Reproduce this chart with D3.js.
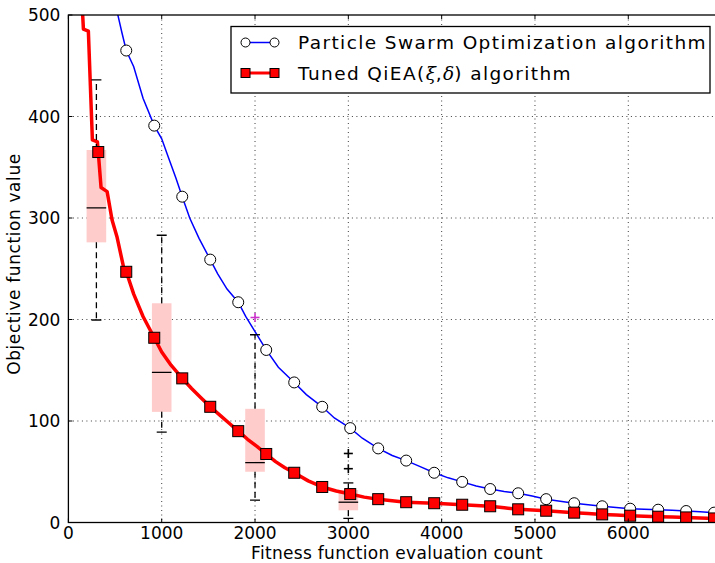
<!DOCTYPE html>
<html><head><meta charset="utf-8">
<script src="https://cdn.jsdelivr.net/npm/d3@7"></script>
<style>body{margin:0;background:#fff}svg{display:block;font-family:"DejaVu Sans",sans-serif}</style>
</head><body><svg id="c" width="715" height="563"></svg>
<script>
// ---- data ----
const psoMarkerX = [620,920,1220,1520,1820,2120,2420,2720,3020,3320,3620,3920,4220,4520,4820,5120,5420,5720,6020,6320,6620,6920];
const psoMarkerY = [465,391,321,259,217,170,138,114,93,73,61,49,40,33,28.8,23,19,16,13.6,12.6,11.3,9.7];
const psoLineX = [525,575,620,700,800,920,1000,1070,1150,1220,1300,1400,1520,1600,1700,1820,1900,2000,2120,2250,2420,2550,2720,2850,3020,3150,3320,3470,3620,3770,3920,4070,4220,4370,4520,4670,4820,4970,5120,5270,5420,5570,5720,5870,6020,6170,6320,6470,6620,6770,6920,7000];
const psoLineY = [502,482,465,449,418,391,378,360,340,321,300,280,259,245,230,217,203,188,170,153,138,126,114,103,93,83,73,66,61,55,49,44,40,36,33,30.5,28.8,26,23,21,19,17.5,16,14.8,13.6,13,12.6,12,11.3,10.5,9.7,9.3];
const qieaMarkerX = [320,620,920,1220,1520,1820,2120,2420,2720,3020,3320,3620,3920,4220,4520,4820,5120,5420,5720,6020,6320,6620,6920];
const qieaMarkerY = [365,247,182,142,114,90,67.5,49,35,28,23,20,19,17.5,16,13,11.6,9.7,8,6.7,5.7,5,4];
const qieaLineX = [150,161,214,257,311,320,350,415,468,522,590,620,700,800,920,1000,1100,1220,1320,1420,1520,1620,1720,1820,1920,2020,2120,2220,2320,2420,2570,2720,2870,3020,3170,3320,3470,3620,3770,3920,4070,4220,4370,4520,4670,4820,4970,5120,5270,5420,5570,5720,5870,6020,6170,6320,6470,6620,6770,6920,7000];
const qieaLineY = [505,486,484,377,375,365,330,326,298,281,252,247,225,203,182,168,155,142,132,123,114,106,98,90,82,75,67.5,60,54,49,41,35,31,28,25,23,21.5,20,19.5,19,18.2,17.5,16.8,16,14.5,13,12.3,11.6,10.6,9.7,8.8,8,7.3,6.7,6.2,5.7,5.3,5,4.5,4,3.8];
// boxplots
const boxX = [300,1000,2000,3000];
const boxQ1 = [276,109,50,12];
const boxQ3 = [367,216,112,32];
const boxMed = [310,148,59,20];
const whiskLo = [199.5,89,22,4];
const whiskHi = [436,283,185,39];
const fliers = [[],[],[202],[68,53]];
const flierColors = ["#000","#000","#cc33cc","#000"];
const xTicks = [0,1000,2000,3000,4000,5000,6000];
const yTicks = [0,100,200,300,400,500];
const legendLabels = ["Particle Swarm Optimization algorithm","Tuned QiEA(ξ,δ) algorithm"];

// ---- layout ----
const svg = d3.select("#c");
const L=68.4, T=15, B=522.5, R=716;
const x = d3.scaleLinear().domain([0,6940]).range([L,R]);
const y = d3.scaleLinear().domain([0,500]).range([B,T]);

svg.append("defs").append("clipPath").attr("id","clip")
  .append("rect").attr("x",L).attr("y",T).attr("width",R-L).attr("height",B-T);

// grid
const g = svg.append("g");
g.selectAll(".gx").data(xTicks.filter(d=>d>0)).join("line")
  .attr("x1",d=>x(d)).attr("x2",d=>x(d)).attr("y1",T).attr("y2",B)
  .attr("stroke","#000").attr("stroke-width",1).attr("stroke-dasharray","1,3.5").attr("opacity",0.75);
g.selectAll(".gy").data(yTicks.filter(d=>d>0&&d<500)).join("line")
  .attr("y1",d=>y(d)).attr("y2",d=>y(d)).attr("x1",L).attr("x2",R)
  .attr("stroke","#000").attr("stroke-width",1).attr("stroke-dasharray","1,3.5").attr("opacity",0.75);

const plot = svg.append("g").attr("clip-path","url(#clip)");

// boxes
const bw = 105;
boxX.forEach((bx,i)=>{
  plot.append("rect").attr("x",x(bx-bw)).attr("width",x(bx+bw)-x(bx-bw))
    .attr("y",y(boxQ3[i])).attr("height",y(boxQ1[i])-y(boxQ3[i]))
    .attr("fill","#ffcccc");
});

// lines
const line = d3.line().x(d=>x(d[0])).y(d=>y(d[1]));
plot.append("path").datum(psoLineX.map((v,i)=>[v,psoLineY[i]]))
  .attr("d",line).attr("fill","none").attr("stroke","#0000ff").attr("stroke-width",1.5);
plot.append("path").datum(qieaLineX.map((v,i)=>[v,qieaLineY[i]]))
  .attr("d",line).attr("fill","none").attr("stroke","#ff0000").attr("stroke-width",3.5).attr("stroke-linejoin","round");

// box whiskers, caps, medians, fliers
boxX.forEach((bx,i)=>{
  const cx = x(bx);
  plot.append("line").attr("x1",cx).attr("x2",cx).attr("y1",y(boxQ3[i])).attr("y2",y(whiskHi[i]))
    .attr("stroke","#000").attr("stroke-width",1.3).attr("stroke-dasharray","6,4");
  plot.append("line").attr("x1",cx).attr("x2",cx).attr("y1",y(boxQ1[i])).attr("y2",y(whiskLo[i]))
    .attr("stroke","#000").attr("stroke-width",1.3).attr("stroke-dasharray","6,4");
  [whiskHi[i],whiskLo[i]].forEach(v=>{
    plot.append("line").attr("x1",cx-5).attr("x2",cx+5).attr("y1",y(v)).attr("y2",y(v))
      .attr("stroke","#000").attr("stroke-width",1.3);
  });
  plot.append("line").attr("x1",x(bx-bw)).attr("x2",x(bx+bw)).attr("y1",y(boxMed[i])).attr("y2",y(boxMed[i]))
    .attr("stroke","#000").attr("stroke-width",1.3);
  fliers[i].forEach(v=>{
    const p = plot.append("g").attr("transform",`translate(${cx},${y(v)})`)
      .attr("stroke",flierColors[i]).attr("stroke-width",1.6);
    p.append("line").attr("x1",-4.5).attr("x2",4.5);
    p.append("line").attr("y1",-4.5).attr("y2",4.5);
  });
});

// markers
plot.selectAll(".pm").data(psoMarkerX.map((v,i)=>[v,psoMarkerY[i]])).join("circle")
  .attr("cx",d=>x(d[0])).attr("cy",d=>y(d[1])).attr("r",5.5)
  .attr("fill","#fff").attr("stroke","#000").attr("stroke-width",1);
plot.selectAll(".qm").data(qieaMarkerX.map((v,i)=>[v,qieaMarkerY[i]])).join("rect")
  .attr("x",d=>x(d[0])-5.5).attr("y",d=>y(d[1])-5.5).attr("width",11).attr("height",11)
  .attr("fill","#ff0000").attr("stroke","#000").attr("stroke-width",1);

// frame
svg.append("rect").attr("x",L).attr("y",T).attr("width",R-L).attr("height",B-T)
  .attr("fill","none").attr("stroke","#000").attr("stroke-width",1.3);

// ticks inward
const tk = svg.append("g").attr("stroke","#000").attr("stroke-width",1);
xTicks.forEach(v=>{
  tk.append("line").attr("x1",x(v)).attr("x2",x(v)).attr("y1",B).attr("y2",B-4);
  tk.append("line").attr("x1",x(v)).attr("x2",x(v)).attr("y1",T).attr("y2",T+4);
});
yTicks.forEach(v=>{
  tk.append("line").attr("x1",L).attr("x2",L+4).attr("y1",y(v)).attr("y2",y(v));
});

// tick labels
svg.selectAll(".xl").data(xTicks).join("text")
  .attr("x",d=>x(d)).attr("y",B+16).attr("text-anchor","middle")
  .attr("font-size",17).text(d=>d);
svg.selectAll(".yl").data(yTicks).join("text")
  .attr("x",L-8).attr("y",d=>y(d)+6).attr("text-anchor","end")
  .attr("font-size",17).text(d=>d);

// axis labels
svg.append("text").attr("x",397).attr("y",559).attr("text-anchor","middle")
  .attr("font-size",17).attr("letter-spacing",0.3).text("Fitness function evaluation count");
svg.append("text").attr("transform","translate(20,264) rotate(-90)").attr("text-anchor","middle")
  .attr("font-size",17).attr("letter-spacing",0.6).text("Objective function value");

// legend
const lg = svg.append("g");
lg.append("rect").attr("x",231).attr("y",26.5).attr("width",479).attr("height",66.5)
  .attr("fill","#fff").attr("stroke","#000").attr("stroke-width",1.3);
const ly = [42.5,73];
lg.append("line").attr("x1",245.5).attr("x2",274.5).attr("y1",ly[0]).attr("y2",ly[0]).attr("stroke","#0000ff").attr("stroke-width",1.5);
[245.5,274.5].forEach(cx=>lg.append("circle").attr("cx",cx).attr("cy",ly[0]).attr("r",4.5).attr("fill","#fff").attr("stroke","#000"));
lg.append("line").attr("x1",245.5).attr("x2",274.5).attr("y1",ly[1]).attr("y2",ly[1]).attr("stroke","#ff0000").attr("stroke-width",3);
[245.5,274.5].forEach(cx=>lg.append("rect").attr("x",cx-4.5).attr("y",ly[1]-4.5).attr("width",9).attr("height",9).attr("fill","#ff0000").attr("stroke","#000"));
lg.append("text").attr("x",298).attr("y",ly[0]+6.5).attr("font-size",18.5).attr("letter-spacing",1.4).text(legendLabels[0]);
const t2 = lg.append("text").attr("x",298).attr("y",ly[1]+6.5).attr("font-size",18.5).attr("letter-spacing",1.4);
// split second label so that the Greek symbols render in italic serif (math style)
const parts = legendLabels[1].split(/([ξδ])/);
parts.forEach(p=>{
  const s = t2.append("tspan").text(p);
  if (p==="ξ"||p==="δ") s.attr("font-family","'DejaVu Serif',serif").attr("font-style","italic").attr("letter-spacing",0);
});
</script></body></html>
